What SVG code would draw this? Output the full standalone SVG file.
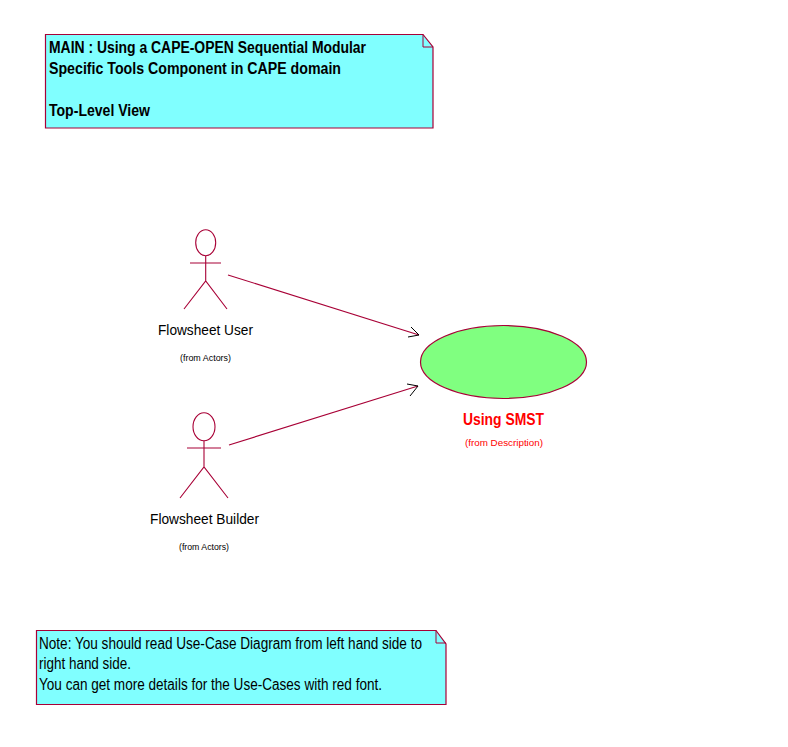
<svg xmlns="http://www.w3.org/2000/svg" width="788" height="747" viewBox="0 0 788 747">
<style>
text{font-family:"Liberation Sans",Arial,sans-serif;fill:#000}
.note{fill:#80ffff;stroke:#a80036;stroke-width:1.2}
.fold{fill:none;stroke:#a80036;stroke-width:1}
.line{fill:none;stroke:#a80036;stroke-width:1.1}
.head{fill:none;stroke:#000;stroke-width:1}
.b{font-size:16px;font-weight:bold}
.n{font-size:16px}
.l{font-size:15.5px}
.s{font-size:9.5px}
.red{fill:#f00}
</style>
<rect width="788" height="747" fill="#fff"/>
<g id="connectors">
<line class="line" x1="228" y1="275" x2="419" y2="335"/>
<path class="head" d="M411 327L419 335L408 337"/>
<line class="line" x1="229" y1="445" x2="418" y2="386"/>
<path class="head" d="M407 384L418 386L410 396"/>
</g>
<g id="title-note">
<path class="note" d="M45.5 34.5H423L433 47V128H45.5Z"/>
<path class="fold" d="M423 34.5V47H433"/>
<text class="b" x="49" y="53" textLength="317" lengthAdjust="spacingAndGlyphs">MAIN : Using a CAPE-OPEN Sequential Modular</text>
<text class="b" x="49" y="74" textLength="292" lengthAdjust="spacingAndGlyphs">Specific Tools Component in  CAPE domain</text>
<text class="b" x="49" y="116" textLength="101" lengthAdjust="spacingAndGlyphs">Top-Level View</text>
</g>
<g id="actor-flowsheet-user">
<ellipse class="line" cx="205.7" cy="242.7" rx="10" ry="13"/>
<path class="line" d="M190 263H221M205.7 256V281M184 309L205.7 281L227 309"/>
<text class="l" x="158" y="335" textLength="95" lengthAdjust="spacingAndGlyphs">Flowsheet User</text>
<text class="s" x="180" y="361" textLength="51" lengthAdjust="spacingAndGlyphs">(from Actors)</text>
</g>
<g id="actor-flowsheet-builder">
<ellipse class="line" cx="204" cy="426.7" rx="11" ry="14"/>
<path class="line" d="M187 448H221M204 441V467M180 498L204 467L228 498"/>
<text class="l" x="150" y="524" textLength="109" lengthAdjust="spacingAndGlyphs">Flowsheet Builder</text>
<text class="s" x="179" y="550" textLength="50" lengthAdjust="spacingAndGlyphs">(from Actors)</text>
</g>
<g id="usecase-using-smst">
<ellipse cx="503.5" cy="362" rx="83" ry="36.5" fill="#80ff80" stroke="#a80036" stroke-width="1.2"/>
<text class="b red" x="463" y="425" textLength="81" lengthAdjust="spacingAndGlyphs">Using SMST</text>
<text class="s red" x="465" y="446" textLength="78" lengthAdjust="spacingAndGlyphs">(from Description)</text>
</g>
<g id="reading-note">
<path class="note" d="M36.5 630.5H436L446 644V704.5H36.5Z"/>
<path class="fold" d="M436 630.5V643H446"/>
<text class="n" x="39" y="649" textLength="383" lengthAdjust="spacingAndGlyphs">Note: You should read Use-Case Diagram from left hand side to</text>
<text class="n" x="39" y="669" textLength="92" lengthAdjust="spacingAndGlyphs">right hand side.</text>
<text class="n" x="39" y="690" textLength="343" lengthAdjust="spacingAndGlyphs">You can get more details for the Use-Cases with red font.</text>
</g>
</svg>
